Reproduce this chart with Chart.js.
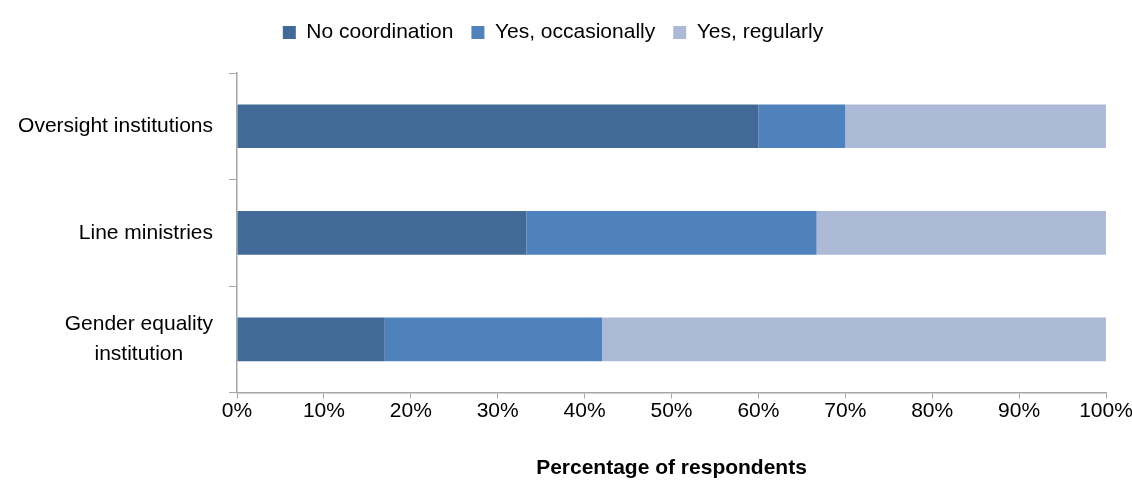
<!DOCTYPE html>
<html>
<head>
<meta charset="utf-8">
<script src="https://cdn.jsdelivr.net/npm/chart.js@4.4.0/dist/chart.umd.min.js"></script>
<style>
  html, body { margin: 0; padding: 0; background: #fff; }
  #wrap { width: 1132px; height: 504px; }
</style>
</head>
<body>
<div id="wrap"><canvas id="coordChart" width="1132" height="504"></canvas></div>
<script>
const FONT = "'Liberation Sans Narrow', 'Arial Narrow', 'Liberation Sans', Arial, sans-serif";

// institutions (top to bottom)
const categories = ['Oversight institutions', 'Line ministries', ['Gender equality', 'institution']];

// share of respondents, %
const noCoordination = [60, 33.3, 17];
const yesOccasionally = [10, 33.4, 25];
const yesRegularly = [30, 33.3, 58];

const xTicks = [0, 10, 20, 30, 40, 50, 60, 70, 80, 90, 100];

// draws the category labels as centred blocks, right-aligned against the axis
const yLabelPlugin = {
  id: 'yLabels',
  afterDraw(chart) {
    const ctx = chart.ctx;
    const yScale = chart.scales.y;
    ctx.save();
    ctx.font = '21px ' + FONT;
    ctx.fillStyle = '#000';
    ctx.textAlign = 'center';
    ctx.textBaseline = 'middle';
    const right = yScale.right - 24;
    const lineH = 30;
    categories.forEach((lab, i) => {
      const lines = Array.isArray(lab) ? lab : [lab];
      const w = Math.max(...lines.map(l => ctx.measureText(l).width));
      const cx = right - w / 2;
      const cy = yScale.getPixelForTick(i);
      lines.forEach((l, j) => {
        ctx.fillText(l, cx, cy + (j - (lines.length - 1) / 2) * lineH);
      });
    });
    ctx.restore();
  }
};

// extra gap between the legend and the plot
const legendGap = {
  id: 'legendGap',
  beforeInit(chart) {
    const fit = chart.legend.fit;
    chart.legend.fit = function () {
      fit.bind(chart.legend)();
      this.height += 20;
    };
  }
};

const ctx = document.getElementById('coordChart').getContext('2d');

new Chart(ctx, {
  type: 'bar',
  data: {
    labels: categories,
    datasets: [
      { label: 'No coordination', data: noCoordination, backgroundColor: '#426a98' },
      { label: 'Yes, occasionally', data: yesOccasionally, backgroundColor: '#4f81bd' },
      { label: 'Yes, regularly', data: yesRegularly, backgroundColor: '#adbad7' },
    ],
  },
  options: {
    indexAxis: 'y',
    responsive: false,
    animation: false,
    layout: { padding: { top: 4, right: 26, bottom: 23, left: 0 } },
    datasets: {
      bar: { barPercentage: 0.41, categoryPercentage: 1, borderWidth: 0 },
    },
    scales: {
      x: {
        stacked: true,
        min: 0,
        max: 100,
        afterBuildTicks(scale) {
          scale.ticks = xTicks.map(v => ({ value: v }));
        },
        afterFit(scale) {
          scale.paddingLeft = 0;
          scale.paddingRight = 0;
        },
        ticks: {
          callback: v => v + '%',
          color: '#000',
          font: { family: FONT, size: 21 },
          padding: 0,
          maxRotation: 0,
        },
        grid: { drawOnChartArea: false, drawTicks: true, tickLength: 6, color: '#a6a6a6' },
        border: { color: '#a6a6a6', width: 1.5 },
        title: {
          display: true,
          text: 'Percentage of respondents',
          color: '#000',
          font: { family: FONT, size: 21, weight: 'bold' },
          padding: { top: 32, bottom: 0 },
        },
      },
      y: {
        stacked: true,
        afterFit(scale) { scale.width = 237; },
        ticks: { display: false },
        grid: { offset: true, drawOnChartArea: false, drawTicks: true, tickLength: 8, color: '#a6a6a6' },
        border: { color: '#a6a6a6', width: 1.5 },
      },
    },
    plugins: {
      legend: {
        position: 'top',
        labels: {
          color: '#000',
          font: { family: FONT, size: 21 },
          boxWidth: 13,
          boxHeight: 13,
          padding: 18,
        },
      },
      tooltip: { enabled: false },
    },
  },
  plugins: [yLabelPlugin, legendGap],
});
</script>
</body>
</html>
